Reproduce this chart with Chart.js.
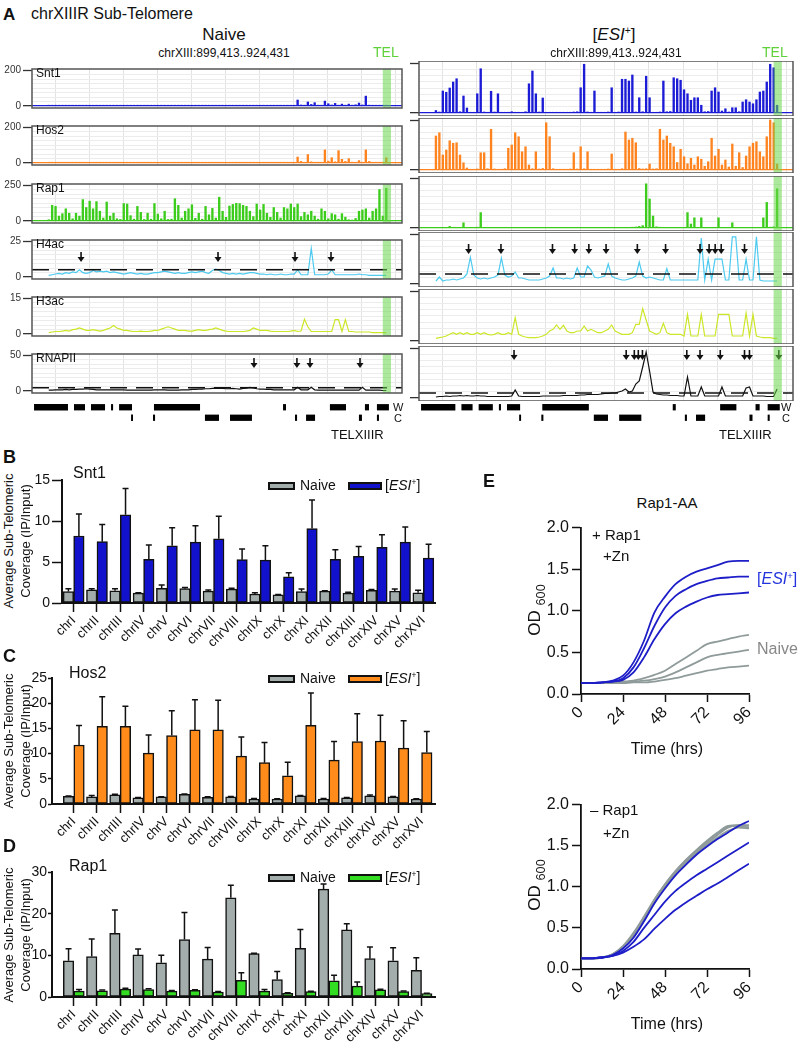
<!DOCTYPE html>
<html>
<head>
<meta charset="utf-8">
<title>chrXIIIR sub-telomere</title>
<script src="https://cdn.jsdelivr.net/npm/chart.js@4.4.1/dist/chart.umd.min.js"></script>
<style>
  body { margin: 0; width: 805px; height: 1050px; position: relative; overflow: hidden; background: #fff;
         font-family: 'Liberation Sans', Arial, Helvetica, sans-serif; color: #111; }
  canvas { position: absolute; }
  .t { position: absolute; white-space: nowrap; line-height: 1; }
  .box { position: absolute; border: 2px solid #111; box-sizing: border-box; height: 8px; }
  .sup { font-size: 0.6em; vertical-align: 0.55em; }
</style>
</head>
<body>
<script>
// ---------- panel A: browser tracks (values per 250 bp bin, 100 bins) ----------
const regionStart = 899.413, regionEnd = 924.431;   // kb
const viewMin = 898.31, viewMax = 925.46;
const telBand = [924.05, 924.65];
const gridKb = [900, 902.5, 905, 907.5, 910, 912.5, 915, 917.5, 920, 922.5, 925];
const trackNames = ['Snt1', 'Hos2', 'Rap1', 'H4ac', 'H3ac', 'RNAPII'];
const trackMax = [200, 200, 250, 25, 15, 50];

const snt1Naive = [2,2,3,2,2,2,2,3,2,2, 2,2,2,2,3,2,2,2,2,2,
  2,2,2,3,2,2,2,2,2,2, 2,3,2,2,2,2,2,2,2,2,
  2,2,2,2,2,3,2,2,2,2, 2,2,2,2,2,2,3,2,2,2,
  2,2,2,2,2,2,2,2,3,2, 2,2,3,33,5,4,22,8,18,4,
  3,27,12,5,14,4,10,4,10,4, 6,16,5,55,4,3,3,2,2,2];
const hos2Naive = [1,1,1,1,1,1,1,1,3,1, 1,1,1,1,1,1,1,1,1,1,
  1,1,1,1,1,1,1,1,1,1, 1,1,1,1,1,1,1,1,1,1,
  1,1,1,1,1,1,1,1,1,1, 1,1,1,1,1,1,1,1,2,1,
  1,1,1,1,1,1,1,1,1,1, 1,1,2,33,8,3,47,6,3,4,
  3,73,10,29,6,69,20,8,24,4, 3,13,4,73,8,2,2,2,3,29];
const rap1Naive = [8,110,102,34,51,85,54,15,54,34, 150,94,139,85,136,68,20,133,34,54,
  15,10,122,119,37,12,102,60,10,54, 12,122,48,15,68,10,12,156,110,20,
  68,85,114,18,54,12,102,43,88,20, 167,68,25,105,116,124,122,110,102,68,
  30,119,77,116,54,25,94,60,20,94, 85,119,94,119,30,60,43,68,34,12,
  85,68,15,51,43,12,51,26,8,6, 17,68,77,85,20,68,85,221,34,230];
const h4acNaive = [1,1.5,2,2.5,2,3,2.5,3.5,3,5, 3,2.5,3,4.5,3.5,4,3.5,4,3,3.5,
  3,2.5,2,2.5,3,2.5,2,2.5,2,2, 2.5,3,3,3.5,4,3.5,3,2.5,3,2.5,
  2.5,3,3.5,3,3.5,4,3,2.5,4.5,5.5, 4.5,3,2.5,2,2.5,2,2.5,2,2.5,3,
  3,2.5,2,2,1.5,2,1.5,1.5,2,1.5, 1.5,2,2,5,1.5,1.5,1.5,20,1.5,1.5,
  1.5,1.5,2,5,1.5,1.5,1.5,1.5,1.5,1.5, 1.5,2,1.5,1.5,1,1,1,1,1,1];
const h3acNaive = [0.5,0.8,1,1,1.2,1.5,1.2,1.8,2,2.5, 2,1.5,1.5,1.8,1.5,1.2,1.5,2,2.5,3.5,
  2.5,2,1.5,1.5,1.2,1,1,1.2,1,1, 1.2,1.5,1.5,2,2.5,3,2.5,2,1.5,1.5,
  1.5,1.2,1.2,1.5,1.8,1.5,1.5,1.8,2,2.5, 2,1.5,1.2,1,1,1,1,1,1.2,1.5,
  2.5,2,1.5,1.5,1.5,1.2,1,1,1,1, 1,1.2,1.5,1,1.2,6.2,3,1,1,1,
  1,1,1,1,6,6,1,6,1,1, 0.8,0.8,0.8,0.8,0.8,0.5,0.5,0.5,0.5,0.5];
const rnapiiNaive = [1,1,1.5,1.5,1.5,2,1.5,2,2,2.5, 2.5,3,2.5,2,1.5,1.5,1.5,1.5,1.5,1.5,
  1.5,1.5,1.5,1,1,1,1,1,1,1, 1,1.5,1.5,1.5,1.5,1,1,1,1,1.5,
  1.5,1.5,2,2,2.5,2.5,3,3,3.5,4, 3.5,3.5,3,3,3.5,3,2.5,3.5,4,5,
  4,3,2.5,2.5,2,2,1.5,1.5,1.5,1.5, 1.5,1.5,1.5,5,1.5,1.5,1.5,5,1.5,1,
  1,1,1,1,1,1,1,1,1,1, 1,1,5,1,1,1,1,1,0.5,0.5];

const snt1Esi = [10,4,88,83,100,124,137,5,68,20, 3,3,77,177,4,3,87,4,77,3,
  3,3,5,3,3,3,5,117,168,77, 4,60,3,3,3,3,3,3,3,3,
  4,5,101,195,4,3,88,3,3,3, 4,101,3,4,135,135,128,152,4,61,
  5,147,61,3,3,4,128,5,6,141, 137,131,93,77,51,61,61,31,5,6,
  88,101,84,8,17,4,21,21,5,44, 53,44,37,53,84,88,124,195,181,31];
const hos2Esi = [136,149,60,80,117,107,109,60,29,8, 3,3,4,69,69,5,163,4,3,3,
  5,87,100,149,133,73,93,20,5,73, 4,6,189,133,5,3,3,3,3,4,
  69,4,93,5,73,3,3,3,3,3, 4,64,3,3,5,152,120,127,109,6,
  4,5,24,4,5,163,120,136,107,93, 30,83,53,25,47,20,53,43,15,33,
  127,56,83,20,40,12,104,15,69,10, 56,93,107,113,73,53,133,200,189,24];
const rap1Esi = [3,3,3,3,8,3,3,3,26,3, 3,3,4,77,3,3,3,3,3,3,
  3,3,3,3,3,3,3,3,3,3, 3,3,3,3,3,3,3,3,3,3,
  3,3,3,3,3,3,3,3,3,3, 3,3,3,3,3,3,3,4,5,8,
  12,221,145,60,6,4,3,3,3,3, 3,3,3,77,20,51,3,51,3,3,
  3,3,51,3,3,3,26,3,3,3, 3,3,3,3,3,51,128,4,6,196];
const h4acEsi = [1.5,3.5,1.5,2,2,2.5,2,2.5,3,5, 13.4,4.5,3,2.5,3,2.5,3,3.5,4.5,13,
  4.5,3.5,4,6,3,3,2.5,2,2,2, 2,2.5,3,4,8,3,3,2.5,3,2.5,
  3,8,3.5,3.5,9,7,3.5,3,3.5,4, 10,4,3,2.5,2,2,2.5,3,4,11,
  4,3,3.5,3,2.5,2,2,7.7,2,2, 2,2,2,2,2,2,2,23,2,12.4,
  2,12.4,12.4,12.4,2,2,23.6,23.6,2,2, 12.4,2,2,23.6,2,1.5,1.5,1.5,1.5,1.5];
const h3acEsi = [0.8,1,1.2,1.5,2,2.5,2,2.5,2,2.5, 2,2,2.5,2,2.5,2,1.8,2,2.5,2,
  2,2.5,2,7,2,1.5,1.2,1,1,1, 1.2,1.5,2,3,3.5,4.8,3.5,4.7,3,2.5,
  2.5,3,3,4.5,3,3.5,3,2.5,2.5,3, 3.5,4.8,3,2.5,2,2,2,2.5,5,5,
  9.7,6.3,3,2.5,2,2.5,5.3,2.5,2,2, 2,2,1.5,8,1.5,1.5,1.5,8,1.5,1.5,
  1.5,1.5,8,8,8,8,1.5,1.5,1.5,1.5, 8.4,1.5,8,1.5,1.2,1,1,1,0.8,0.8];
const rnapiiEsi = [1,1.5,1.5,2,1.5,2,2,2.5,2,2.5, 2,2,2.5,2,2,1.5,1.5,1.5,1.5,1.5,
  1.5,1.5,2,8,2,1.5,1.5,1.5,1.5,1.5, 1.5,2,2,2,2,2,2,2.5,2.5,2.5,
  2.5,2.5,3,3,3.5,3.5,3.5,3.5,4,4.5, 4.5,5,5,6,7,9,6,7,14,17,
  31,46,27,6,4,3.5,3,3,2.5,2.5, 2.5,2,2,21,2,2,2,11,2,2,
  2,2,2,11,2,2,2,2,2,2, 10,11,2,2,2,2,1.5,1.5,1.5,9];

const h4acCutoff = [5, 5];
const rnapiiCutoff = [4.5, 5];
const h4acArrowsNaive = [901.91, 911.96, 917.61, 920.25];
const h4acArrowsEsi = [901.91, 904.26, 908.00, 909.61, 910.64, 911.89, 914.16, 916.21, 918.71, 919.37, 919.81, 920.25, 921.94];
const rnapiiArrowsNaive = [914.60, 917.75, 918.71, 922.38];
const rnapiiArrowsEsi = [905.21, 913.35, 913.94, 914.23, 914.53, 917.75, 918.71, 920.18, 921.94, 922.30, 924.43];

const watsonGenes = [[898.46, 900.95], [901.39, 902.20], [902.64, 903.67], [904.11, 904.26], [904.70, 905.65],
  [907.26, 910.64], [916.73, 916.95], [920.17, 921.35], [922.74, 923.04], [923.62, 924.50]];
const crickGenes = [[905.58, 905.72], [907.19, 907.34], [911.00, 912.03], [912.84, 914.45], [917.61, 917.76],
  [918.42, 919.08], [922.30, 922.52], [923.62, 923.77]];

// ---------- panels B-D: sub-telomeric coverage ----------
const chrLabels = ['chrI','chrII','chrIII','chrIV','chrV','chrVI','chrVII','chrVIII',
  'chrIX','chrX','chrXI','chrXII','chrXIII','chrXIV','chrXV','chrXVI'];
const snt1NaiveMean = [1.4,1.6,1.5,1.2,1.8,1.75,1.45,1.7,1.1,1.0,1.4,1.45,1.2,1.55,1.45,1.25];
const snt1NaiveSd = [0.35,0.15,0.25,0.05,0.4,0.15,0.15,0.1,0.15,0.05,0.3,0.05,0.1,0.1,0.25,0.3];
const snt1EsiMean = [8.2,7.5,10.8,5.35,7.0,7.45,7.85,5.3,5.25,3.2,9.1,5.35,5.7,6.8,7.45,5.5];
const snt1EsiSd = [2.7,2.1,3.2,1.75,2.2,2.0,2.75,1.3,1.75,0.5,3.5,1.15,1.2,1.55,1.85,1.7];
const hos2NaiveMean = [1.5,1.4,1.8,1.2,1.4,1.9,1.3,1.4,1.0,1.0,1.6,1.0,1.2,1.6,1.4,1.0];
const hos2NaiveSd = [0.1,0.3,0.15,0.1,0.05,0.1,0.15,0.1,0.1,0.05,0.1,0.1,0.1,0.2,0.1,0.05];
const hos2EsiMean = [11.7,15.4,15.4,10.1,13.6,14.7,14.7,9.5,8.2,5.6,15.6,8.7,12.4,12.5,11.1,10.2];
const hos2EsiSd = [3.9,5.9,4.0,3.6,4.9,6.0,5.9,3.8,4.0,2.7,6.4,3.7,5.5,5.1,5.4,4.2];
const rap1NaiveMean = [8.7,9.7,15.3,10.1,8.2,13.8,9.1,23.8,10.4,4.2,11.7,25.9,16.1,9.2,8.7,6.4];
const rap1NaiveSd = [2.9,4.2,5.6,1.4,1.8,6.5,2.8,3.0,0.1,1.9,4.5,1.2,1.5,2.8,3.1,3.0];
const rap1EsiMean = [1.4,1.5,1.9,1.8,1.4,1.6,1.2,4.0,1.4,0.9,1.3,3.9,2.6,1.7,1.3,0.8];
const rap1EsiSd = [0.4,0.2,0.2,0.2,0.15,0.15,0.15,1.8,0.4,0.1,0.1,1.3,1.0,0.15,0.15,0.1];

// ---------- panel E: Rap1-AA growth (OD600) ----------
const hours = [0,6,12,18,24,30,36,42,48,54,60,66,72,78,84,90,96];
const hourTicks = [0, 24, 48, 72, 96];
const plusEsi1 = [0.13,0.13,0.14,0.16,0.22,0.38,0.64,0.98,1.17,1.32,1.41,1.47,1.51,1.55,1.59,1.60,1.60];
const plusEsi2 = [0.13,0.13,0.14,0.15,0.19,0.32,0.55,0.82,1.04,1.18,1.26,1.32,1.36,1.39,1.40,1.41,1.41];
const plusEsi3 = [0.13,0.13,0.14,0.15,0.17,0.26,0.44,0.66,0.84,0.97,1.05,1.11,1.16,1.19,1.20,1.21,1.22];
const plusNaive1 = [0.13,0.13,0.13,0.14,0.15,0.16,0.19,0.23,0.28,0.36,0.44,0.52,0.60,0.63,0.66,0.69,0.71];
const plusNaive2 = [0.13,0.13,0.13,0.13,0.14,0.15,0.16,0.18,0.21,0.26,0.32,0.38,0.44,0.47,0.49,0.51,0.53];
const plusNaive3 = [0.13,0.13,0.13,0.13,0.13,0.14,0.14,0.15,0.17,0.19,0.22,0.25,0.28,0.30,0.32,0.33,0.34];
const minusEsi1 = [0.13,0.13,0.14,0.17,0.25,0.38,0.58,0.80,0.98,1.14,1.27,1.39,1.49,1.58,1.66,1.74,1.80];
const minusEsi2 = [0.13,0.13,0.14,0.16,0.22,0.33,0.50,0.66,0.82,0.95,1.05,1.14,1.22,1.30,1.38,1.46,1.54];
const minusEsi3 = [0.13,0.13,0.14,0.16,0.20,0.27,0.36,0.49,0.61,0.72,0.81,0.89,0.97,1.04,1.12,1.20,1.28];
const minusNaive1 = [0.13,0.13,0.14,0.18,0.27,0.42,0.62,0.83,1.02,1.18,1.31,1.43,1.53,1.63,1.72,1.75,1.75];
const minusNaive2 = [0.13,0.13,0.14,0.18,0.28,0.44,0.64,0.85,1.03,1.19,1.32,1.44,1.55,1.65,1.73,1.74,1.72];
const minusNaive3 = [0.13,0.13,0.14,0.17,0.26,0.40,0.60,0.81,1.00,1.16,1.29,1.41,1.51,1.60,1.68,1.72,1.71];
const minusNaive4 = [0.13,0.13,0.14,0.18,0.27,0.41,0.61,0.84,1.03,1.19,1.33,1.45,1.56,1.66,1.74,1.75,1.74];

// ---------- layout / style ----------
const FONT = "'Liberation Sans', Arial, Helvetica, sans-serif";
Chart.defaults.font.family = FONT;
Chart.defaults.color = '#111';
Chart.defaults.animation = false;
Chart.defaults.events = [];
Chart.defaults.plugins.legend.display = false;
Chart.defaults.plugins.tooltip.enabled = false;

const frames = [[32, 402], [419, 793]];
const trackTop = [61, 118, 176, 232, 289, 346];
const trackHeight = 55;
const trackColors = ['#1c1cd6', '#ff8420', '#3ccc1c', '#4ccaf0', '#cde628', '#111'];
const naiveGray = '#a3aeac';
const binKb = (regionEnd - regionStart) / 100;
const esiHtml = '[<i>ESI</i><span class="sup">+</span>]';

function addCanvas(left, top, w, h) {
  const c = document.createElement('canvas');
  c.width = w; c.height = h;
  c.style.left = left + 'px';
  c.style.top = top + 'px';
  document.body.appendChild(c);
  return c;
}

function label(html, x, baseline, size, opt = {}) {
  const d = document.createElement('div');
  d.className = 't';
  d.innerHTML = html;
  d.style.left = x + 'px';
  d.style.top = (baseline - 0.85 * size) + 'px';
  d.style.fontSize = size + 'px';
  if (opt.align === 'center') d.style.transform = 'translateX(-50%)';
  if (opt.color) d.style.color = opt.color;
  document.body.appendChild(d);
}

function vlabel(html, cx, cy, size) {
  const d = document.createElement('div');
  d.className = 't';
  d.innerHTML = html;
  d.style.left = cx + 'px';
  d.style.top = cy + 'px';
  d.style.fontSize = size + 'px';
  d.style.transform = 'translate(-50%, -50%) rotate(-90deg)';
  document.body.appendChild(d);
}

function legendBox(x, y, w, color) {
  const d = document.createElement('div');
  d.className = 'box';
  d.style.left = x + 'px';
  d.style.top = y + 'px';
  d.style.width = w + 'px';
  d.style.background = color;
  document.body.appendChild(d);
}

// frame, TEL band and arrows for the browser tracks
const trackDeco = {
  id: 'trackDeco',
  afterDatasetsDraw(chart, args, o) {
    const a = chart.chartArea, ctx = chart.ctx, xs = chart.scales.x;
    ctx.save();
    ctx.strokeStyle = '#111';
    ctx.fillStyle = '#111';
    ctx.lineWidth = 1.6;
    (o.arrows || []).forEach(p => {
      const x = xs.getPixelForValue(p), y0 = a.top + o.arrowTop, y1 = y0 + 10;
      ctx.beginPath(); ctx.moveTo(x, y0); ctx.lineTo(x, y1 - 4); ctx.stroke();
      ctx.beginPath(); ctx.moveTo(x - 3.5, y1 - 5); ctx.lineTo(x + 3.5, y1 - 5); ctx.lineTo(x, y1); ctx.closePath(); ctx.fill();
    });
    ctx.restore();
  },
  afterDraw(chart, args, o) {
    const a = chart.chartArea, ctx = chart.ctx, xs = chart.scales.x;
    const x0 = xs.getPixelForValue(o.tel[0]), x1 = xs.getPixelForValue(o.tel[1]);
    ctx.save();
    ctx.fillStyle = 'rgba(105, 215, 75, 0.55)';
    ctx.fillRect(x0, a.top, x1 - x0, a.bottom - a.top);
    ctx.strokeStyle = '#555';
    ctx.lineWidth = 1.5;
    ctx.strokeRect(a.left, a.top, a.right - a.left, a.bottom - a.top);
    ctx.restore();
  }
};

function track(side, row, values, extra = {}) {
  const [fl, fr] = frames[side];
  const max = trackMax[row];
  const color = trackColors[row];
  const spiky = row < 3;   // ChIP signal tracks drawn as thin spikes on a baseline
  const cv = addCanvas(fl - 32, trackTop[row], fr - fl + 36, trackHeight);
  const datasets = [{
    type: spiky ? 'bar' : 'line',
    data: values.map((v, i) => ({ x: regionStart + (i + 0.5) * binKb, y: v })),
    backgroundColor: color, borderColor: color, borderWidth: spiky ? 0 : 1.2,
    pointRadius: 0, barThickness: 1.7
  }];
  if (extra.cutoff !== undefined) {
    datasets.unshift({
      type: 'line',
      data: [{ x: viewMin, y: extra.cutoff }, { x: viewMax, y: extra.cutoff }],
      borderColor: '#111', borderWidth: 1.6, borderDash: [17, 9], pointRadius: 0
    });
  }
  const isEnd = c => c.tick && (c.tick.value === 0 || c.tick.value === max);
  new Chart(cv, {
    type: 'line',
    data: { datasets },
    options: {
      responsive: false,
      layout: { padding: { right: 4 } },
      scales: {
        x: {
          type: 'linear', min: viewMin, max: viewMax, offset: false,
          afterBuildTicks: s => { s.ticks = gridKb.map(v => ({ value: v })); },
          ticks: { display: false },
          grid: { color: '#e3e3e3', drawTicks: false, offset: false },
          border: { display: false },
          afterFit: s => { s.height = 0; }
        },
        y: {
          min: -0.06 * max, max: 1.04 * max,
          afterBuildTicks: s => { s.ticks = Array.from({ length: 9 }, (_, k) => ({ value: max * k / 8 })); },
          ticks: {
            display: side === 0, autoSkip: false, padding: 2, font: { size: 10 }, color: '#333',
            callback: v => (v === 0 || v === max) ? String(v) : ''
          },
          grid: {
            color: c => (spiky && c.tick && c.tick.value === 0) ? color : (isEnd(c) ? 'rgba(0,0,0,0)' : '#ececec'),
            lineWidth: c => (c.tick && c.tick.value === 0) ? 1.3 : 1,
            tickColor: c => isEnd(c) ? '#333' : 'rgba(0,0,0,0)',
            tickLength: 9, tickWidth: 1.3
          },
          border: { display: false },
          afterFit: s => { s.width = 32; }
        }
      },
      plugins: { trackDeco: { tel: telBand, arrows: extra.arrows || [], arrowTop: extra.arrowTop || 0 } }
    },
    plugins: [trackDeco]
  });
}

function geneTrack(side) {
  const [fl, fr] = frames[side];
  const cv = addCanvas(fl - 32, 402, fr - fl + 36, 21);
  const data = watsonGenes.map(g => ({ x: g, y: 'W' })).concat(crickGenes.map(g => ({ x: g, y: 'C' })));
  new Chart(cv, {
    type: 'bar',
    data: { labels: ['W', 'C'], datasets: [{ data, backgroundColor: '#000', borderWidth: 0, barPercentage: 0.6, categoryPercentage: 1, grouped: false }] },
    options: {
      indexAxis: 'y',
      responsive: false,
      layout: { padding: { right: 4 } },
      scales: {
        x: { type: 'linear', min: viewMin, max: viewMax, ticks: { display: false }, grid: { display: false }, border: { display: false }, afterFit: s => { s.height = 0; } },
        y: { type: 'category', ticks: { display: false }, grid: { display: false }, border: { display: false }, afterFit: s => { s.width = 32; } }
      }
    }
  });
}

const errorBars = {
  id: 'errorBars',
  afterDatasetsDraw(chart) {
    const ctx = chart.ctx, ys = chart.scales.y;
    ctx.save();
    ctx.strokeStyle = '#111';
    ctx.lineWidth = 1.5;
    chart.data.datasets.forEach((ds, d) => {
      chart.getDatasetMeta(d).data.forEach((bar, i) => {
        const yTop = ys.getPixelForValue(ds.data[i].y + ds.sd[i]);
        ctx.beginPath();
        ctx.moveTo(bar.x, bar.y); ctx.lineTo(bar.x, yTop);
        ctx.moveTo(bar.x - 3, yTop); ctx.lineTo(bar.x + 3, yTop);
        ctx.stroke();
      });
    });
    ctx.restore();
  }
};

function coverageChart(o) {
  const cv = addCanvas(20, o.yTop - 10, 420, o.yZero - o.yTop + 56);
  const pts = arr => arr.map((v, i) => ({ x: i + 1, y: v }));
  const barStyle = { borderColor: '#111', borderWidth: 1.5, borderSkipped: false, barThickness: 10.5 };
  new Chart(cv, {
    type: 'bar',
    data: {
      datasets: [
        Object.assign({ data: pts(o.naive), sd: o.naiveSd, backgroundColor: naiveGray }, barStyle),
        Object.assign({ data: pts(o.esi), sd: o.esiSd, backgroundColor: o.color }, barStyle)
      ]
    },
    options: {
      responsive: false,
      layout: { padding: { top: 10, right: 5 } },
      scales: {
        x: {
          type: 'linear', min: o.xMin, max: o.xMax, offset: false,
          afterBuildTicks: s => { s.ticks = chrLabels.map((_, i) => ({ value: i + 1 })); },
          ticks: { autoSkip: false, minRotation: 45, maxRotation: 45, padding: 1, font: { size: 13 }, callback: v => chrLabels[v - 1] },
          grid: { offset: false, drawOnChartArea: false, tickLength: 9, tickColor: '#111', tickWidth: 1.5 },
          border: { color: '#111', width: 2 },
          afterFit: s => { s.height = 46; }
        },
        y: {
          min: 0, max: o.yMax,
          ticks: { stepSize: o.step, padding: o.tickPad, font: { size: 14 } },
          grid: { drawOnChartArea: false, tickLength: o.tickLen, tickColor: '#111', tickWidth: 1.5 },
          border: { color: '#111', width: 2 },
          afterFit: s => { s.width = o.axisX - 20; }
        }
      }
    },
    plugins: [errorBars]
  });
}

function growthChart(axisTop, axisBottom, series) {
  const cv = addCanvas(520, axisTop - 10, 245, axisBottom - axisTop + 58);
  new Chart(cv, {
    type: 'line',
    data: {
      datasets: series.map(s => ({
        data: hours.map((h, i) => ({ x: h, y: s.values[i] })),
        borderColor: s.color, borderWidth: 1.8, pointRadius: 0, cubicInterpolationMode: 'monotone'
      }))
    },
    options: {
      responsive: false,
      layout: { padding: { top: 10, right: 16 } },
      scales: {
        x: {
          type: 'linear', min: 0, max: 96,
          afterBuildTicks: s => { s.ticks = hourTicks.map(v => ({ value: v })); },
          ticks: { autoSkip: false, minRotation: 45, maxRotation: 45, padding: 1, font: { size: 16 } },
          grid: { drawOnChartArea: false, tickLength: 8, tickColor: '#111', tickWidth: 1.5 },
          border: { color: '#111', width: 1.8 },
          afterFit: s => { s.height = 48; }
        },
        y: {
          min: 0, max: 2,
          ticks: { stepSize: 0.5, padding: 3, font: { size: 16 }, callback: v => v.toFixed(1) },
          grid: { drawOnChartArea: false, tickLength: 9, tickColor: '#111', tickWidth: 1.5 },
          border: { color: '#111', width: 1.8 },
          afterFit: s => { s.width = 61; }
        }
      }
    }
  });
}

// ---------- build panel A ----------
const naiveTracks = [snt1Naive, hos2Naive, rap1Naive, h4acNaive, h3acNaive, rnapiiNaive];
const esiTracks = [snt1Esi, hos2Esi, rap1Esi, h4acEsi, h3acEsi, rnapiiEsi];
[naiveTracks, esiTracks].forEach((set, side) => {
  set.forEach((vals, row) => {
    let extra = {};
    if (row === 3) extra = { cutoff: h4acCutoff[side], arrows: side ? h4acArrowsEsi : h4acArrowsNaive, arrowTop: 12 };
    if (row === 5) extra = { cutoff: rnapiiCutoff[side], arrows: side ? rnapiiArrowsEsi : rnapiiArrowsNaive, arrowTop: 4 };
    track(side, row, vals, extra);
  });
  geneTrack(side);
});

label('<b>A</b>', 3, 20, 17);
label('chrXIIIR Sub-Telomere', 31, 20, 16);
label('Naive', 224, 40, 17, { align: 'center' });
label('chrXIII:899,413..924,431', 224, 57, 12, { align: 'center' });
label(esiHtml, 614, 40, 17, { align: 'center' });
label('chrXIII:899,413..924,431', 616, 57, 12, { align: 'center' });
label('TEL', 373, 57, 14, { color: '#5fd13a' });
label('TEL', 762, 57, 14, { color: '#5fd13a' });
trackNames.forEach((n, i) => label(n, 36, trackTop[i] + 16, 12));
label('W', 393, 411, 11); label('C', 394, 422, 11);
label('W', 781, 411, 11); label('C', 782, 422, 11);
label('TELXIIIR', 331, 439, 13);
label('TELXIIIR', 719, 439, 13);

// ---------- panels B-D ----------
coverageChart({ yTop: 480, yZero: 603, axisX: 62, xMin: 0.5, xMax: 16.5, yMax: 15, step: 5, tickLen: 10, tickPad: 2,
  naive: snt1NaiveMean, naiveSd: snt1NaiveSd, esi: snt1EsiMean, esiSd: snt1EsiSd, color: '#1212cc' });
coverageChart({ yTop: 678, yZero: 804, axisX: 52, xMin: 0.06, xMax: 16.58, yMax: 25, step: 5, tickLen: 4, tickPad: 1,
  naive: hos2NaiveMean, naiveSd: hos2NaiveSd, esi: hos2EsiMean, esiSd: hos2EsiSd, color: '#ff8c1a' });
coverageChart({ yTop: 872, yZero: 997, axisX: 52, xMin: 0.06, xMax: 16.58, yMax: 30, step: 10, tickLen: 4, tickPad: 1,
  naive: rap1NaiveMean, naiveSd: rap1NaiveSd, esi: rap1EsiMean, esiSd: rap1EsiSd, color: '#33dd22' });

[['B', 463, 'Snt1', 479, 73, 482, '#1212cc', 541],
 ['C', 662, 'Hos2', 679, 69, 675, '#ff8c1a', 741],
 ['D', 852, 'Rap1', 872, 69, 874, '#33dd22', 935]].forEach(([letter, ly, title, ty, tx, boxY, color, cy]) => {
  label('<b>' + letter + '</b>', 3, ly, 18);
  label(title, tx, ty, 16);
  legendBox(268, boxY, 27, naiveGray);
  label('Naive', 300, boxY + 8, 14);
  legendBox(348, boxY, 34, color);
  label(esiHtml, 385, boxY + 8, 14);
  vlabel('Average Sub-Telomeric', 8, cy, 13);
  vlabel('Coverage (IP/Input)', 25, cy, 13);
});

// ---------- panel E ----------
const eBlue = '#1e1ec8', eGray = '#8f9b9a';
growthChart(525, 694, [
  { values: plusEsi1, color: eBlue }, { values: plusEsi2, color: eBlue }, { values: plusEsi3, color: eBlue },
  { values: plusNaive1, color: eGray }, { values: plusNaive2, color: eGray }, { values: plusNaive3, color: eGray }
]);
growthChart(802, 969, [
  { values: minusEsi1, color: eBlue }, { values: minusEsi2, color: eBlue }, { values: minusEsi3, color: eBlue },
  { values: minusNaive1, color: eGray }, { values: minusNaive2, color: eGray },
  { values: minusNaive3, color: eGray }, { values: minusNaive4, color: eGray }
]);

label('<b>E</b>', 483, 487, 18);
label('Rap1-AA', 667, 508, 15, { align: 'center' });
label('+ Rap1', 592, 540, 15);
label('+Zn', 603, 561, 15);
label(esiHtml, 757, 585, 16, { color: '#2233dd' });
label('Naive', 757, 655, 16, { color: '#888' });
vlabel('OD <sub style="font-size:0.75em">600</sub>', 537, 610, 17);
label('Time (hrs)', 667, 755, 16, { align: 'center' });
label('\u2013 Rap1', 590, 815, 15);
label('+Zn', 603, 838, 15);
vlabel('OD <sub style="font-size:0.75em">600</sub>', 537, 885, 17);
label('Time (hrs)', 667, 1030, 16, { align: 'center' });
</script>
</body>
</html>
